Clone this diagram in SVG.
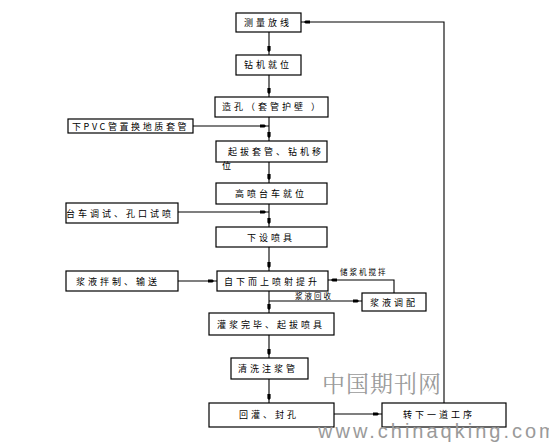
<svg xmlns="http://www.w3.org/2000/svg" width="549" height="442" viewBox="0 0 549 442">
<style>
.box{fill:#fff;stroke:#000;stroke-width:1.2}
.t{font-family:"Noto Sans CJK SC","Liberation Sans",sans-serif;font-size:9px;letter-spacing:3px;fill:#000}
.s{font-family:"Noto Sans CJK SC","Liberation Sans",sans-serif;font-size:7.5px;letter-spacing:2px;fill:#000}
.ln{fill:none;stroke:#000;stroke-width:1.1}
.wm{fill:#9a9a9a}
</style>
<defs>
<marker id="a" markerUnits="userSpaceOnUse" markerWidth="14" markerHeight="8" refX="9" refY="4" orient="auto" viewBox="0 0 14 8">
<path d="M0,2.4 L4.5,2.4 L6,4 L4.5,5.6 L0,5.6 z" fill="#000"/>
</marker>
</defs>
<rect width="549" height="442" fill="#fff"/>
<g id="connectors">
<path class="ln" d="M269,32 V55" marker-end="url(#a)"/>
<path class="ln" d="M269,75 V97" marker-end="url(#a)"/>
<path class="ln" d="M269,117 V141" marker-end="url(#a)"/>
<path class="ln" d="M193,126 H269" marker-end="url(#a)"/>
<path class="ln" d="M269,162 V183" marker-end="url(#a)"/>
<path class="ln" d="M178,212 H269" marker-end="url(#a)"/>
<path class="ln" d="M269,204 V227" marker-end="url(#a)"/>
<path class="ln" d="M269,247 V271" marker-end="url(#a)"/>
<path class="ln" d="M178,281 H217" marker-end="url(#a)"/>
<path class="ln" d="M394,293 V280 H328" marker-end="url(#a)"/>
<path class="ln" d="M269,301 H362" marker-end="url(#a)"/>
<path class="ln" d="M269,291 V313" marker-end="url(#a)"/>
<path class="ln" d="M269,335 V358" marker-end="url(#a)"/>
<path class="ln" d="M269,379 V403" marker-end="url(#a)"/>
<path class="ln" d="M334,414 H382" marker-end="url(#a)"/>
<path class="ln" d="M444,403 V22 H301" marker-end="url(#a)"/>
<text class="s" x="340" y="275">储浆机搅拌</text>
<text class="s" x="295" y="299">浆液回收</text>
</g>
<g id="n1"><rect class="box" x="236" y="13" width="65" height="19"/><text class="t" x="244" y="26">测量放线</text></g>
<g id="n2"><rect class="box" x="236" y="55" width="65" height="20"/><text class="t" x="244" y="68">钻机就位</text></g>
<g id="n3"><rect class="box" x="215" y="97" width="113" height="20"/><text class="t" x="222" y="110">造孔（套管护壁 ）</text></g>
<g id="n4"><rect class="box" x="68" y="119" width="125" height="14"/><text class="t" x="72" y="129.5" style="letter-spacing:2.6px">下PVC管置换地质套管</text></g>
<g id="n5"><rect class="box" x="216" y="141" width="111" height="21"/><text class="t" x="228" y="155">起拔套管、钻机移</text><text class="t" x="222" y="169">位</text></g>
<g id="n6"><rect class="box" x="216" y="183" width="111" height="21"/><text class="t" x="235" y="197">高喷台车就位</text></g>
<g id="n7"><rect class="box" x="66" y="203" width="112" height="20"/><text class="t" x="66" y="216.5">台车调试、孔口试喷</text></g>
<g id="n8"><rect class="box" x="216" y="227" width="111" height="20"/><text class="t" x="247" y="240.5">下设喷具</text></g>
<g id="n9"><rect class="box" x="66" y="271" width="112" height="20"/><text class="t" x="76" y="284.5">浆液拌制、输送</text></g>
<g id="n10"><rect class="box" x="217" y="271" width="111" height="20"/><text class="t" x="224" y="284.5">自下而上喷射提升</text></g>
<g id="n11"><rect class="box" x="362" y="293" width="64" height="18"/><text class="t" x="370" y="305.5">浆液调配</text></g>
<g id="n12"><rect class="box" x="209" y="313" width="125" height="22"/><text class="t" x="217" y="327.5">灌浆完毕、起拔喷具</text></g>
<g id="n13"><rect class="box" x="231" y="358" width="77" height="21"/><text class="t" x="238" y="372">清洗注浆管</text></g>
<g id="n14"><rect class="box" x="209" y="403" width="125" height="24"/><text class="t" x="239" y="418">回灌、封孔</text></g>
<g id="n15"><rect class="box" x="382" y="403" width="124" height="24"/><text class="t" x="403" y="418">转下一道工序</text></g>
<g id="watermark">
<text class="wm" x="322" y="392" style="font-family:'Noto Serif CJK SC','Noto Sans CJK SC',serif;font-size:23px;letter-spacing:1px">中国期刊网</text>
<text class="wm" x="318" y="438" style="font-family:'Liberation Sans',sans-serif;font-size:20px;letter-spacing:3px">www.chinaqking.com</text>
</g>
</svg>
